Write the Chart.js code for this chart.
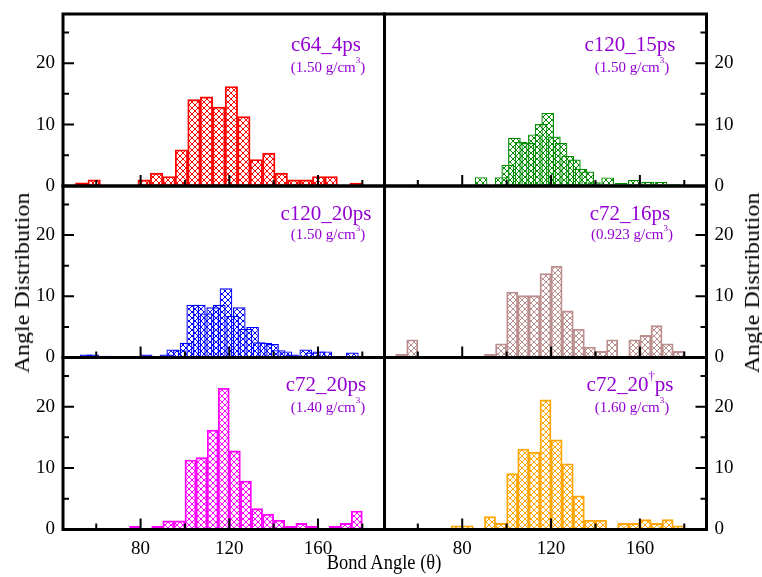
<!DOCTYPE html>
<html>
<head>
<meta charset="utf-8">
<title>Bond angle distributions</title>
<script src="https://cdn.jsdelivr.net/npm/chart.js@4.4.1/dist/chart.umd.min.js"></script>
<style>
  body{margin:0;background:#fff}
  #fig{position:relative;width:762px;height:577px;overflow:hidden;font-family:"Liberation Serif","Times New Roman",serif}
  #fig canvas{position:absolute;left:0;top:0}
  .nm,.dn{position:absolute;color:#9400d3;white-space:nowrap;line-height:1;transform:translateX(-50%)}
  .nm{font-size:21px}
  .dn{font-size:15px}
  .nm sup,.dn sup{font-size:60%;position:relative;top:-0.35em;vertical-align:top}
  .ttl{position:absolute;white-space:nowrap;line-height:1;color:#000}
  .xt{font-size:22px;transform:translateX(-50%) scaleX(0.84)}
  .rot{font-size:24px;transform:translate(-50%,-50%) rotate(-90deg) scaleY(0.85)}
</style>
</head>
<body>
<div id="fig"></div>
<script>
// ---- data ----
// c64_4ps, 5.625 deg bins
var c64Angle = [53.44,59.06,64.69,70.31,75.94,81.56,87.19,92.81,98.44,104.06,109.69,115.31,120.94,126.56,132.19,137.81,143.44,149.06,154.69,160.31,165.94,171.56,177.19]
var c64Dist  = [0.5,1.0,0,0,0,1.0,2.1,1.55,5.9,14.05,14.5,12.85,16.2,11.3,4.3,5.35,2.1,1.0,1.0,1.55,1.55,0,0.46]

// c120_15ps, 3 deg spacing (overlapping bars)
var c120a15Angle = [55.5,58.5,61.5,64.5,67.5,70.5,73.5,76.5,79.5,82.5,85.5,88.5,91.5,94.5,97.5,100.5,103.5,106.5,109.5,112.5,115.5,118.5,121.5,124.5,127.5,130.5,133.5,136.5,139.5,142.5,145.5,148.5,151.5,154.5,157.5,160.5,163.5,166.5,169.5,172.5,175.5]
var c120a15Dist  = [0.2,0.2,0.2,0,0,0,0,0,0,0.2,0,1.44,0,0,1.44,3.46,7.86,7.15,7.0,8.4,10.1,11.9,8.07,7.0,4.9,4.3,2.8,2.37,0.6,0,1.4,0,0.5,0,1.0,0,0.7,0,0.7,0,0.3]

// c120_20ps, 3 deg spacing (overlapping bars)
var c120a20Angle = c120a15Angle
var c120a20Dist  = [0.5,0.5,0,0.3,0,0,0,0,0,0.5,0.2,0,0.5,1.3,1.2,2.4,8.6,8.6,7.2,8.2,8.6,11.3,6.8,8.2,4.7,5.0,2.5,2.4,2.2,1.2,1.0,0.5,0.3,1.3,0.8,1.0,1.0,0,0,0,0.8]

// c72_16ps, 5 deg bins
var c72a16Angle = [52.5,57.5,62.5,67.5,72.5,77.5,82.5,87.5,92.5,97.5,102.5,107.5,112.5,117.5,122.5,127.5,132.5,137.5,142.5,147.5,152.5,157.5,162.5,167.5,172.5,177.5]
var c72a16Dist  = [0.5,2.9,0,0,0,0,0,0,0.5,2.25,10.7,10.1,10.1,13.7,14.9,7.6,4.6,1.7,1.0,2.9,0,2.9,3.6,5.2,2.25,1.0]

// c72_20ps, 5 deg bins
var c72a20Angle = [77.5,82.5,87.5,92.5,97.5,102.5,107.5,112.5,117.5,122.5,127.5,132.5,137.5,142.5,147.5,152.5,157.5,162.5,167.5,172.5,177.5]
var c72a20Dist  = [0.5,0,0.5,1.4,1.4,11.3,11.7,16.2,23.0,12.8,7.9,3.4,2.5,1.5,0.5,1.0,0.5,0,0.5,1.0,3.0]

// c72_20(dagger)ps, 5 deg bins
var c72b20Angle = c72a20Angle
var c72b20Dist  = [0.6,0.6,0,2.1,1.0,9.1,13.1,12.6,21.1,14.6,10.7,5.5,1.5,1.5,0,1.0,1.0,1.6,1.0,1.6,0.6]

var xTicks = [80,120,160]
var xMinor = [60,100,140,180]
var yTicks = [0,10,20]
var yMinor = [5,15,25]
var xRange = [45,190]
var yRange = [0,28]

var names = ['c64_4ps','c120_15ps','c120_20ps','c72_16ps','c72_20ps','c72_20<sup>\u2020</sup>ps']
var densities = ['1.50','1.50','1.50','0.923','1.40','1.60']

// ---- layout ----
var W = 762, H = 577
var colX = [63,384.5,706.5]
var rowY = [14,186,357.5,529.5]
var nameTop = [34,203,374], densTop = [59.5,227,399.5]
var AX_W = 50, AX_H = 40
var serif = '"Liberation Serif","Times New Roman",serif'

function hatch(color){
  var t = document.createElement('canvas')
  t.width = t.height = 6
  var g = t.getContext('2d')
  g.strokeStyle = color
  g.lineWidth = 1
  g.beginPath()
  g.moveTo(-1,-1); g.lineTo(7,7)
  g.moveTo(7,-1); g.lineTo(-1,7)
  g.stroke()
  return g.createPattern(t,'repeat')
}

// box round each panel + inward ticks, drawn over the bars
var frame = {
  id: 'frame',
  afterDatasetsDraw: function(chart){
    var a = chart.chartArea, c = chart.ctx, sx = chart.scales.x, sy = chart.scales.y
    var onRight = sy.options.position === 'right'
    c.save()
    c.strokeStyle = '#000'
    c.lineWidth = 2
    c.beginPath()
    function xt(v, len){ var p = sx.getPixelForValue(v); c.moveTo(p, a.bottom); c.lineTo(p, a.bottom - len) }
    function yt(v, len){
      var p = sy.getPixelForValue(v)
      if(onRight){ c.moveTo(a.right, p); c.lineTo(a.right - len, p) }
      else{ c.moveTo(a.left, p); c.lineTo(a.left + len, p) }
    }
    xTicks.forEach(function(v){ xt(v, 11) })
    xMinor.forEach(function(v){ xt(v, 6) })
    yTicks.forEach(function(v){ yt(v, 11) })
    yMinor.forEach(function(v){ yt(v, 6) })
    c.stroke()
    c.lineWidth = 3
    c.strokeRect(a.left, a.top, a.right - a.left, a.bottom - a.top)
    c.restore()
  }
}

function panel(i, angles, dist, color, barPct){
  var col = i % 2, row = Math.floor(i / 2)
  var fig = document.getElementById('fig')
  var cv = document.createElement('canvas')
  cv.width = W; cv.height = H
  fig.appendChild(cv)
  var bottomRow = row === 2
  var pad = {
    top: rowY[row],
    bottom: H - rowY[row + 1] - AX_H,
    left: col ? colX[1] : colX[0] - AX_W,
    right: col ? W - colX[2] - AX_W : W - colX[1]
  }
  var pts = angles.map(function(a, k){ return {x: a, y: dist[k]} })
  return new Chart(cv, {
    type: 'bar',
    data: {datasets: [{
      data: pts,
      backgroundColor: hatch(color),
      borderColor: color,
      borderWidth: 1.2,
      borderSkipped: false,
      barPercentage: barPct || 1,
      categoryPercentage: 1
    }]},
    options: {
      responsive: false,
      animation: false,
      events: [],
      layout: {padding: pad},
      plugins: {legend: {display: false}, tooltip: {enabled: false}},
      scales: {
        x: {
          type: 'linear', min: xRange[0], max: xRange[1], offset: false,
          grid: {display: false, drawTicks: false, offset: false},
          border: {display: false},
          ticks: {display: bottomRow, color: '#000', padding: 8, font: {family: serif, size: 19}},
          afterBuildTicks: function(s){ s.ticks = xTicks.map(function(v){ return {value: v} }) },
          afterFit: function(s){ s.height = AX_H; s.paddingLeft = 0; s.paddingRight = 0 }
        },
        y: {
          position: col ? 'right' : 'left',
          min: yRange[0], max: yRange[1],
          grid: {display: false, drawTicks: false},
          border: {display: false},
          ticks: {color: '#000', padding: 8, font: {family: serif, size: 19}},
          afterBuildTicks: function(s){ s.ticks = yTicks.map(function(v){ return {value: v} }) },
          afterFit: function(s){ s.width = AX_W; s.paddingTop = 0; s.paddingBottom = 0 }
        }
      }
    },
    plugins: [frame]
  })
}

panel(0, c64Angle, c64Dist, '#ff0000')
panel(1, c120a15Angle, c120a15Dist, '#008b00', 1.9)
panel(2, c120a20Angle, c120a20Dist, '#0000ff', 1.9)
panel(3, c72a16Angle, c72a16Dist, '#bc8f8f')
panel(4, c72a20Angle, c72a20Dist, '#ff00ff')
panel(5, c72b20Angle, c72b20Dist, '#ffa500')

// panel labels
var fig = document.getElementById('fig')
names.forEach(function(n, i){
  var col = i % 2, row = Math.floor(i / 2)
  var cx = col ? 630 : 326
  var a = document.createElement('div')
  a.className = 'nm'
  a.innerHTML = n
  a.style.left = cx + 'px'
  a.style.top = nameTop[row] + 'px'
  fig.appendChild(a)
  var b = document.createElement('div')
  b.className = 'dn'
  b.innerHTML = '(' + densities[i] + ' g/cm<sup>3</sup>)'
  b.style.left = (cx + 2) + 'px'
  b.style.top = densTop[row] + 'px'
  fig.appendChild(b)
})

function title(txt, x, y, cls){
  var d = document.createElement('div')
  d.className = 'ttl ' + cls
  d.textContent = txt
  d.style.left = x + 'px'
  d.style.top = y + 'px'
  fig.appendChild(d)
  return d
}
title('Bond Angle (\u03b8)', 384, 551, 'xt')
title('Angle Distribution', 22, 283, 'rot')
title('Angle Distribution', 752, 283, 'rot')
</script>
</body>
</html>
